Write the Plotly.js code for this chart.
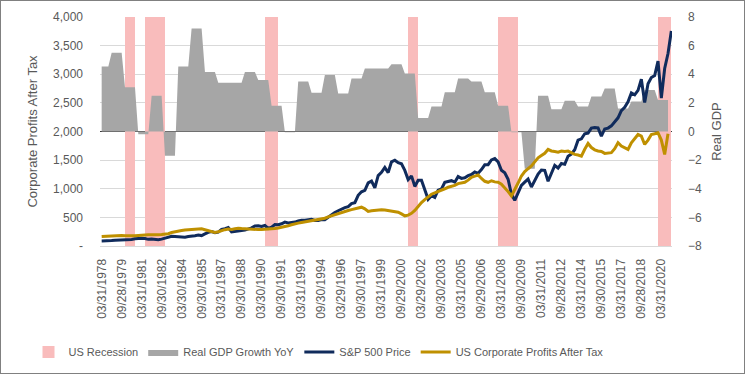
<!DOCTYPE html>
<html><head><meta charset="utf-8">
<script src="https://cdn.plot.ly/plotly-3.0.1.min.js"></script>
<style>
html,body{margin:0;padding:0;background:#fff;}
#chart{position:absolute;left:0;top:0;width:745px;height:377px;}
#frame{position:absolute;left:0;top:0;width:743px;height:372px;border:1px solid #808080;pointer-events:none;}
</style>
</head><body>
<div id="chart"></div><div id="frame"></div>
<script>
// Tick labels shown every 6 quarters (quarter-end dates)
const tickLabels = ["03/31/1978","09/28/1979","03/31/1981","09/30/1982","03/30/1984","09/30/1985",
  "03/31/1987","09/30/1988","03/30/1990","09/30/1991","03/31/1993","09/30/1994","03/29/1996",
  "09/30/1997","03/31/1999","09/29/2000","03/29/2002","09/30/2003","03/31/2005","09/29/2006",
  "03/31/2008","09/30/2009","03/31/2011","09/28/2012","03/31/2014","09/30/2015","03/31/2017",
  "09/28/2018","03/31/2020"];

// S&P 500 quarter-end price, 1978Q1 .. 2020Q4
const sp500 = [
  89.21, 95.53, 102.54, 96.11,
  101.59, 102.91, 109.32, 107.94,
  102.09, 114.24, 125.46, 135.76,
  136.00, 131.21, 116.18, 122.55,
  111.96, 109.61, 120.42, 140.64,
  152.96, 168.11, 166.07, 164.93,
  159.18, 153.18, 166.10, 167.24,
  180.66, 191.85, 182.08, 211.28,
  238.90, 250.84, 231.32, 242.17,
  291.70, 304.00, 321.83, 247.08,
  258.89, 273.50, 271.91, 277.72,
  294.87, 317.98, 349.15, 353.40,
  339.94, 358.02, 306.05, 330.22,
  375.22, 371.16, 387.86, 417.09,
  403.69, 408.14, 417.80, 435.71,
  451.67, 450.53, 458.93, 466.45,
  445.77, 444.27, 462.69, 459.27,
  500.71, 544.75, 584.41, 615.93,
  645.50, 670.63, 687.33, 740.74,
  757.12, 885.14, 947.28, 970.43,
  1101.75, 1133.84, 1017.01, 1229.23,
  1286.37, 1372.71, 1282.71, 1469.25,
  1498.58, 1454.60, 1436.51, 1320.28,
  1160.33, 1224.42, 1040.94, 1148.08,
  1147.39, 989.82, 815.28, 879.82,
  848.18, 974.50, 995.97, 1111.92,
  1126.21, 1140.84, 1114.58, 1211.92,
  1180.59, 1191.33, 1228.81, 1248.29,
  1294.83, 1270.20, 1335.85, 1418.30,
  1420.86, 1503.35, 1526.75, 1468.36,
  1322.70, 1280.00, 1166.36, 903.25,
  797.87, 919.32, 1057.08, 1115.10,
  1169.43, 1030.71, 1141.20, 1257.64,
  1325.83, 1320.64, 1131.42, 1257.60,
  1408.47, 1362.16, 1440.67, 1426.19,
  1569.19, 1606.28, 1681.55, 1848.36,
  1872.34, 1960.23, 1972.29, 2058.90,
  2067.89, 2063.11, 1920.03, 2043.94,
  2059.74, 2098.86, 2168.27, 2238.83,
  2362.72, 2423.41, 2519.36, 2673.61,
  2640.87, 2718.37, 2913.98, 2506.85,
  2834.40, 2941.76, 2976.74, 3230.78,
  2584.59, 3100.29, 3363.00, 3756.07];

// US corporate profits after tax (USD bn), 1978Q1 .. 2020Q4 (last quarter not yet reported)
const profits = [
  165, 170, 175, 178,
  182, 185, 183, 180,
  176, 172, 178, 185,
  192, 190, 195, 196,
  190, 195, 200, 205,
  215, 235, 250, 266,
  272, 280, 285, 290,
  300, 308, 300, 285,
  265, 250, 238, 250,
  270, 285, 296, 290,
  300, 310, 305, 300,
  298, 290, 285, 288,
  290, 292, 296, 300,
  305, 315, 325, 340,
  355, 370, 390, 400,
  410, 420, 435, 445,
  455, 465, 470, 485,
  510, 530, 550, 570,
  590, 605, 620, 635,
  650, 665, 678, 650,
  603, 615, 625, 632,
  632, 628, 620, 615,
  605, 590, 560, 527,
  540, 570, 620, 700,
  760, 810, 860, 904,
  930, 950, 980, 1000,
  1026, 1040, 1060, 1090,
  1100, 1113, 1150, 1200,
  1220, 1240, 1180, 1130,
  1113, 1140, 1120, 1113,
  1080, 1020, 950, 875,
  980, 1100, 1223, 1300,
  1350, 1397, 1470, 1540,
  1580, 1620, 1687, 1660,
  1650, 1640, 1660, 1650,
  1658, 1630, 1600, 1590,
  1571, 1690, 1791, 1720,
  1680, 1660, 1650, 1617,
  1625, 1630, 1700, 1803,
  1745, 1716, 1687, 1803,
  1880, 1948, 1919, 1774,
  1850, 1948, 1960, 1977,
  1850, 1600, 1960, null];

// Real GDP growth YoY (%), annual figure repeated over the quarters it is plotted on
const gdpYoY = [
  4.55, 4.55, 4.55,
  5.5, 5.5, 5.5, 5.5,
  3.1, 3.1, 3.1, 3.1,
  -0.2, -0.2, -0.2, -0.2,
  2.5, 2.5, 2.5, 2.5,
  -1.7, -1.7, -1.7, -1.7,
  4.55, 4.55, 4.55, 4.55,
  7.2, 7.2, 7.2, 7.2,
  4.15, 4.15, 4.15, 4.15,
  3.4, 3.4, 3.4, 3.4,
  3.4, 3.4, 3.4, 3.4,
  4.15, 4.15, 4.15, 4.15,
  3.6, 3.6, 3.6, 3.6,
  1.8, 1.8, 1.8, 1.8,
  -0.05, -0.05, -0.05, -0.05,
  3.5, 3.5, 3.5, 3.5,
  2.7, 2.7, 2.7, 2.7,
  3.95, 3.95, 3.95, 3.95,
  2.65, 2.65, 2.65, 2.65,
  3.7, 3.7, 3.7, 3.7,
  4.4, 4.4, 4.4, 4.4,
  4.4, 4.4, 4.4, 4.4,
  4.7, 4.7, 4.7, 4.7,
  4.05, 4.05, 4.05, 4.05,
  0.95, 0.95, 0.95, 0.95,
  1.75, 1.75, 1.75, 1.75,
  2.75, 2.75, 2.75, 2.75,
  3.7, 3.7, 3.7, 3.7,
  3.5, 3.5, 3.5, 3.5,
  2.75, 2.75, 2.75, 2.75,
  1.8, 1.8, 1.8, 1.8,
  -0.05, -0.05, -0.05, -0.05,
  -2.6, -2.6, -2.6, -2.6,
  2.5, 2.5, 2.5, 2.5,
  1.55, 1.55, 1.55, 1.55,
  2.15, 2.15, 2.15, 2.15,
  1.75, 1.75, 1.75, 1.75,
  2.45, 2.45, 2.45, 2.45,
  3.0, 3.0, 3.0, 3.0,
  1.6, 1.6, 1.6, 1.6,
  2.1, 2.1, 2.1, 2.1,
  2.9, 2.9, 2.9, 2.9,
  2.2, 2.2, 2.2, 2.2,
  null];

// Quarter indices (0 = 1978Q1) flagged as US recession
const recessionQuarters = [8, 9, 10, 14, 15, 16, 17, 18, 19, 50, 51, 52, 53,
  93, 94, 95, 120, 121, 122, 123, 124, 125, 168, 169, 170, 171];
const recessionFlag = recessionQuarters.map(() => 1);

const quarterIdx = sp500.map((_, i) => i);
const tickIdx = tickLabels.map((_, k) => k * 6);

const leftVals = [0, 500, 1000, 1500, 2000, 2500, 3000, 3500, 4000];
const leftText = ["-", "500", "1,000", "1,500", "2,000", "2,500", "3,000", "3,500", "4,000"];
const rightVals = [-8, -6, -4, -2, 0, 2, 4, 6, 8];

const grey = '#595959';
const baseFont = 'Liberation Sans, Arial, sans-serif';

const traces = [
  {type: 'bar', name: 'US Recession', x: recessionQuarters, y: recessionFlag,
   width: 1, offset: -1, marker: {color: '#f9bcbc', line: {width: 0}},
   xaxis: 'x', yaxis: 'y', hoverinfo: 'skip'},
  {type: 'scatter', mode: 'lines', name: 'Real GDP Growth YoY', x: quarterIdx, y: gdpYoY,
   fill: 'tozeroy', fillcolor: '#a6a6a6', line: {width: 0, color: '#a6a6a6'},
   xaxis: 'x', yaxis: 'y2', connectgaps: false},
  {type: 'scatter', mode: 'lines', name: 'S&P 500 Price', x: quarterIdx, y: sp500,
   line: {width: 3, color: '#102b5c'}, xaxis: 'x', yaxis: 'y3'},
  {type: 'scatter', mode: 'lines', name: 'US Corporate Profits After Tax', x: quarterIdx, y: profits,
   line: {width: 3, color: '#bf9000'}, xaxis: 'x', yaxis: 'y3'}
];

const layout = {
  width: 745, height: 377,
  margin: {l: 100, r: 73, t: 17, b: 130},
  paper_bgcolor: '#ffffff', plot_bgcolor: 'rgba(0,0,0,0)',
  font: {family: baseFont, size: 12, color: grey},
  showlegend: true,
  bargap: 0,
  xaxis: {range: [-0.5, 171.2], tickmode: 'array', tickvals: tickIdx, ticktext: tickLabels,
    tickangle: -90, tickfont: {size: 12, color: grey}, showgrid: false, zeroline: false,
    showline: true, linecolor: '#d9d9d9', linewidth: 1, ticks: '', ticklabelstandoff: 7, fixedrange: true},
  yaxis: {range: [0, 1], visible: false, fixedrange: true},
  yaxis2: {overlaying: 'y', side: 'right', range: [-8, 8], tickmode: 'array', tickvals: rightVals,
    showgrid: false, zeroline: true, zerolinecolor: '#3a3a3a', zerolinewidth: 1.5,
    tickfont: {size: 12, color: grey}, ticks: '', ticklabelstandoff: 15,
    title: {text: 'Real GDP', font: {size: 13, color: grey}, standoff: 10}, automargin: false, fixedrange: true},
  yaxis3: {overlaying: 'y', side: 'left', range: [0, 4000], tickmode: 'array', tickvals: leftVals, ticktext: leftText,
    showgrid: true, gridcolor: '#d9d9d9', gridwidth: 1, zeroline: false,
    tickfont: {size: 12, color: grey}, ticks: '', ticklabelstandoff: 16,
    title: {text: 'Corporate Profits After Tax', font: {size: 13, color: grey}, standoff: 12}, automargin: false, fixedrange: true},
  legend: {orientation: 'h', x: -0.125, xanchor: 'left', y: -0.457, yanchor: 'middle',
    font: {family: baseFont, size: 11, color: grey},
    bgcolor: 'rgba(0,0,0,0)', traceorder: 'normal', itemwidth: 30}
};

Plotly.newPlot('chart', traces, layout, {staticPlot: true, displayModeBar: false});
</script>
</body></html>
